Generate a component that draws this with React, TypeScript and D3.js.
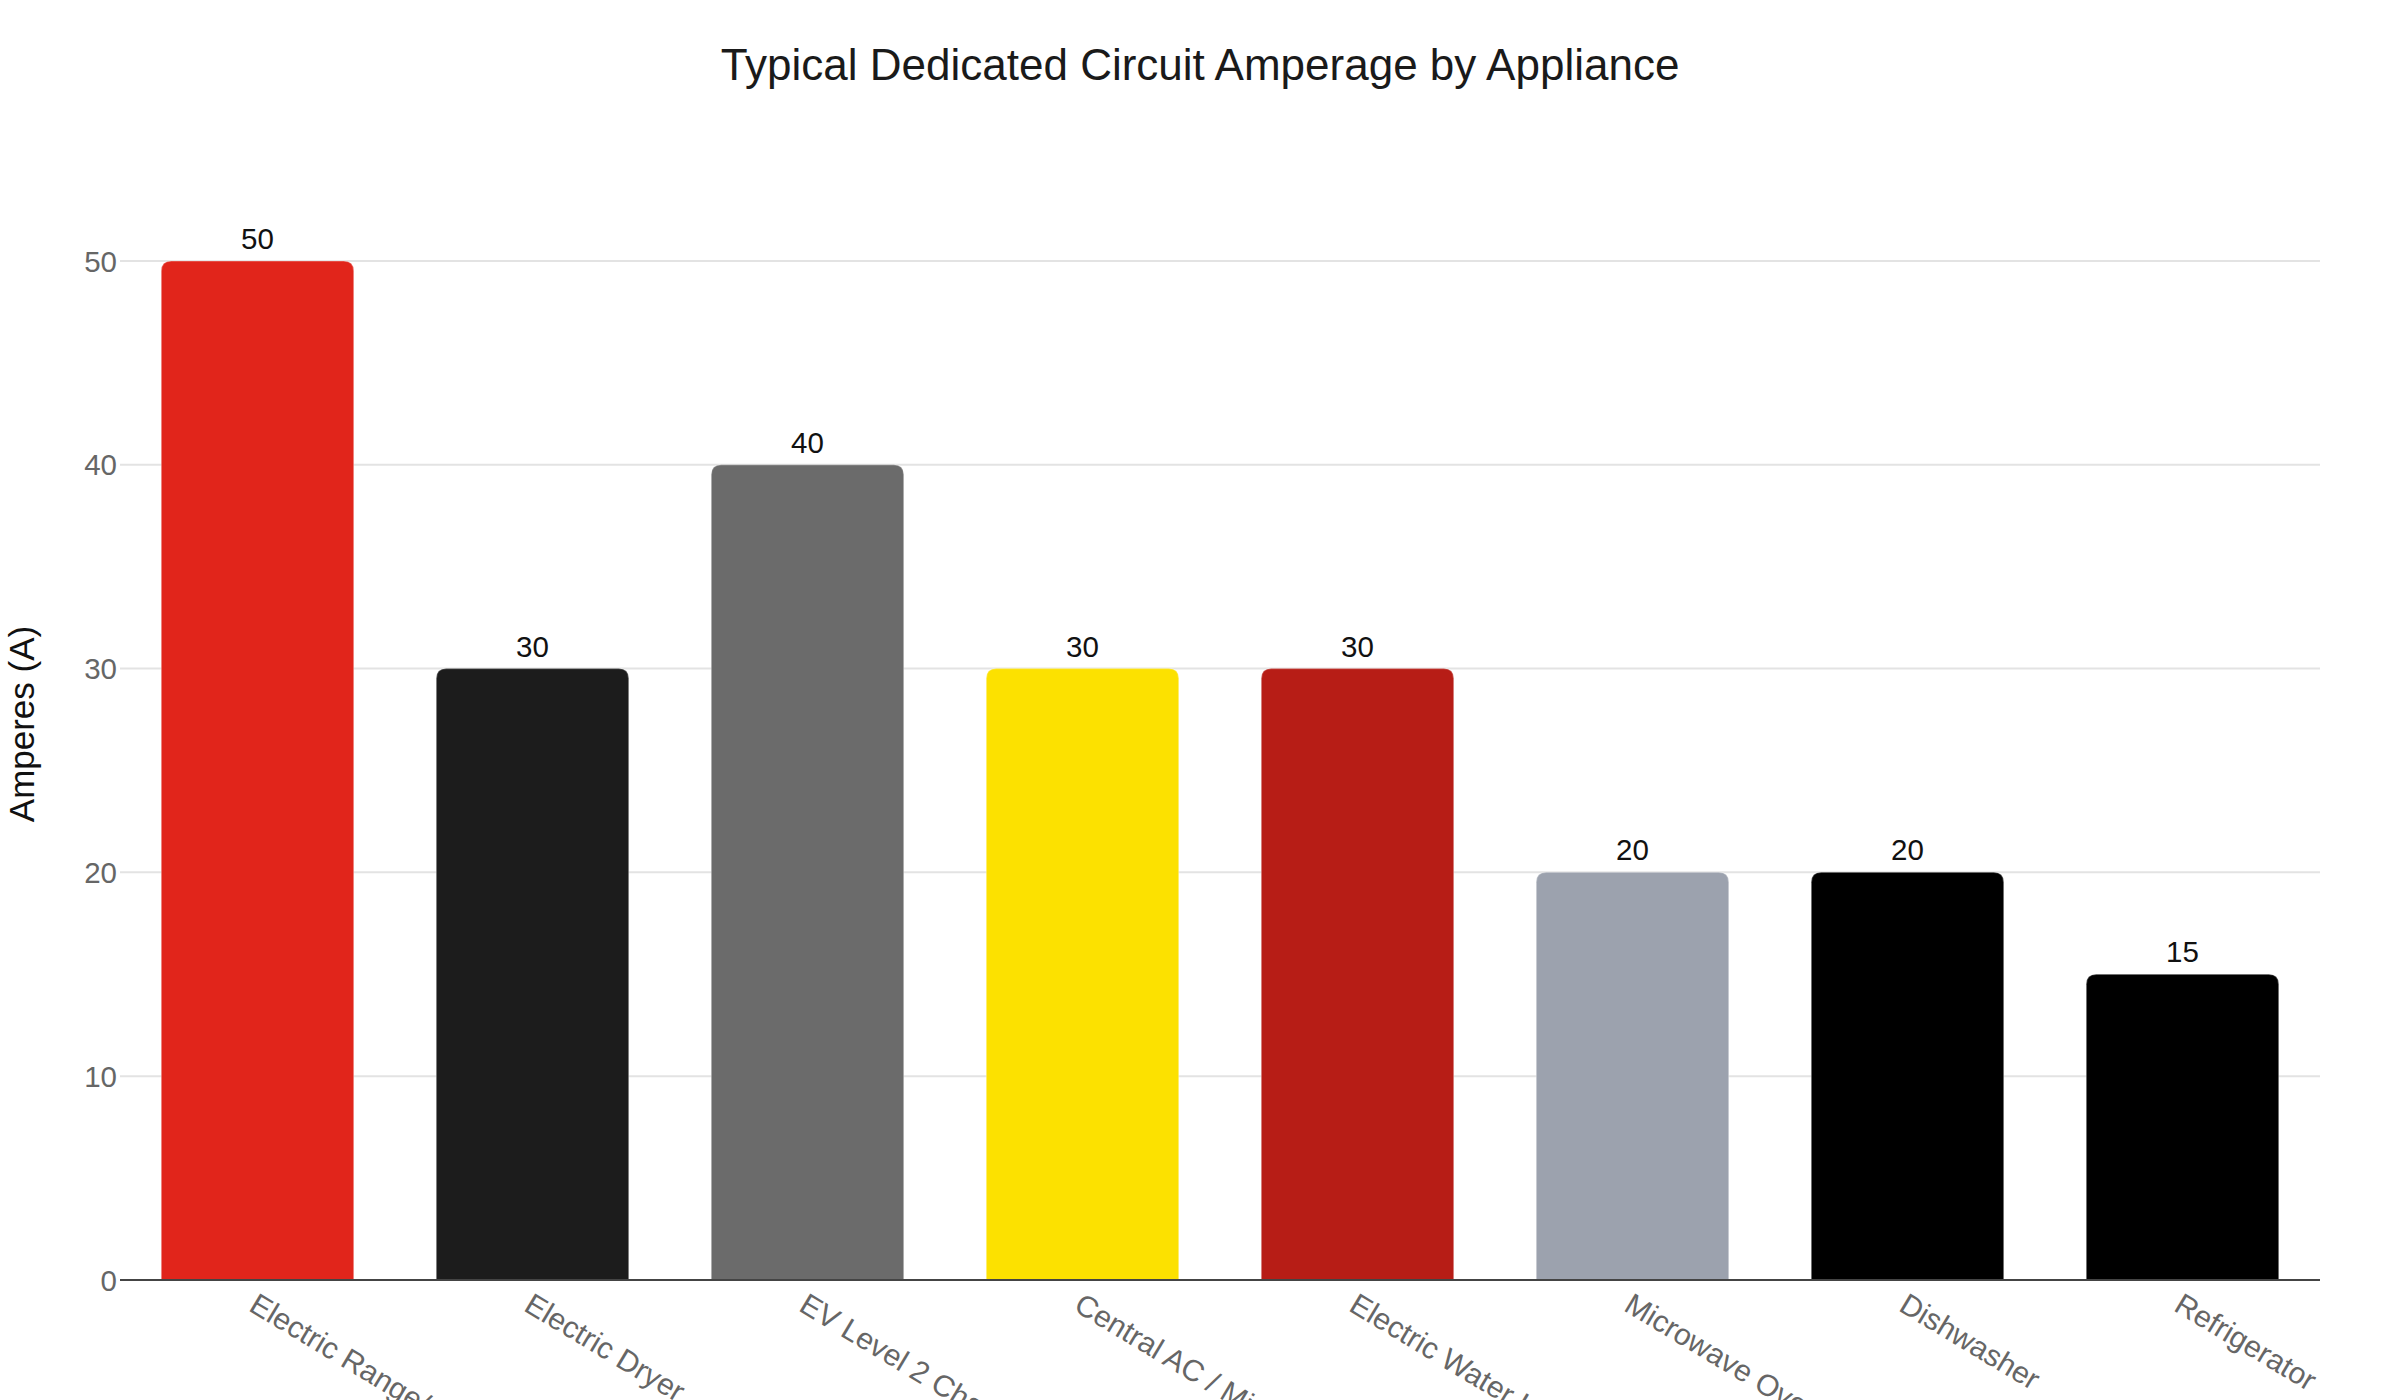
import React from "react";
import * as d3 from "d3";

// Chart data
const appliances: string[] = [
  "Electric Range/Cooktop",
  "Electric Dryer",
  "EV Level 2 Charger",
  "Central AC / Mini-Split",
  "Electric Water Heater",
  "Microwave Oven",
  "Dishwasher",
  "Refrigerator",
];
const amperes: number[] = [50, 30, 40, 30, 30, 20, 20, 15];
const barColors: string[] = [
  "#E1251B",
  "#1C1C1C",
  "#6B6B6B",
  "#FCE100",
  "#B71D16",
  "#9CA2AE",
  "#000000",
  "#000000",
];
const yTicks: number[] = [0, 10, 20, 30, 40, 50];

const W = 2400;
const H = 1400;
const margin = { left: 120, right: 80, top: 159, bottom: 120 };
const FONT = "'Liberation Sans', Arial, Helvetica, sans-serif";

function topRoundedBar(x: number, y: number, w: number, h: number, r: number): string {
  const rr = Math.min(r, w / 2, h);
  return [
    `M${x},${y + h}`,
    `L${x},${y + rr}`,
    `Q${x},${y} ${x + rr},${y}`,
    `L${x + w - rr},${y}`,
    `Q${x + w},${y} ${x + w},${y + rr}`,
    `L${x + w},${y + h}`,
    "Z",
  ].join(" ");
}

export default function App() {
  const x = d3
    .scaleBand<string>()
    .domain(appliances)
    .range([margin.left, W - margin.right])
    .paddingInner(0.3)
    .paddingOuter(0.15);

  const y = d3
    .scaleLinear()
    .domain([0, 55])
    .range([H - margin.bottom, margin.top]);

  const y0 = y(0);

  return (
    <div style={{ position: "fixed", left: 0, top: 0, width: W, height: H, background: "#fff" }}>
      <svg width={W} height={H} style={{ display: "block" }} fontFamily={FONT}>
        <rect x={0} y={0} width={W} height={H} fill="#ffffff" />

        {/* Title */}
        <text x={W / 2} y={80} textAnchor="middle" fontSize={44} fill="#1a1a1a">
          Typical Dedicated Circuit Amperage by Appliance
        </text>

        {/* Gridlines */}
        {yTicks
          .filter((t) => t > 0)
          .map((t) => (
            <line
              key={`g${t}`}
              x1={margin.left}
              x2={W - margin.right}
              y1={y(t)}
              y2={y(t)}
              stroke="#e3e3e3"
              strokeWidth={2}
            />
          ))}

        {/* Y tick labels */}
        {yTicks.map((t) => (
          <text
            key={`yt${t}`}
            x={margin.left - 3}
            y={y(t)}
            dy="0.36em"
            textAnchor="end"
            fontSize={29.5}
            fill="#666666"
          >
            {t}
          </text>
        ))}

        {/* Y axis title */}
        <text
          transform={`translate(34, ${724}) rotate(-90)`}
          textAnchor="middle"
          fontSize={35}
          fill="#111111"
        >
          Amperes (A)
        </text>

        {/* Bars */}
        {appliances.map((a, i) => {
          const bx = x(a) as number;
          const bw = x.bandwidth();
          const by = y(amperes[i]);
          return (
            <path
              key={`b${i}`}
              d={topRoundedBar(bx, by, bw, y0 - by, 10)}
              fill={barColors[i]}
              stroke="rgba(255,255,255,0.25)"
              strokeWidth={1.5}
            />
          );
        })}

        {/* Value labels */}
        {appliances.map((a, i) => (
          <text
            key={`v${i}`}
            x={(x(a) as number) + x.bandwidth() / 2}
            y={y(amperes[i]) - 12}
            textAnchor="middle"
            fontSize={29.5}
            fill="#111111"
          >
            {amperes[i]}
          </text>
        ))}

        {/* X axis line */}
        <line
          x1={margin.left}
          x2={W - margin.right}
          y1={y0}
          y2={y0}
          stroke="#444444"
          strokeWidth={2}
        />

        {/* X tick labels */}
        {appliances.map((a, i) => {
          const cx = (x(a) as number) + x.bandwidth() / 2;
          return (
            <text
              key={`xt${i}`}
              transform={`translate(${cx - 10}, ${y0 + 30}) rotate(31)`}
              textAnchor="start"
              fontSize={30}
              fill="#666666"
            >
              {a}
            </text>
          );
        })}
      </svg>
    </div>
  );
}
